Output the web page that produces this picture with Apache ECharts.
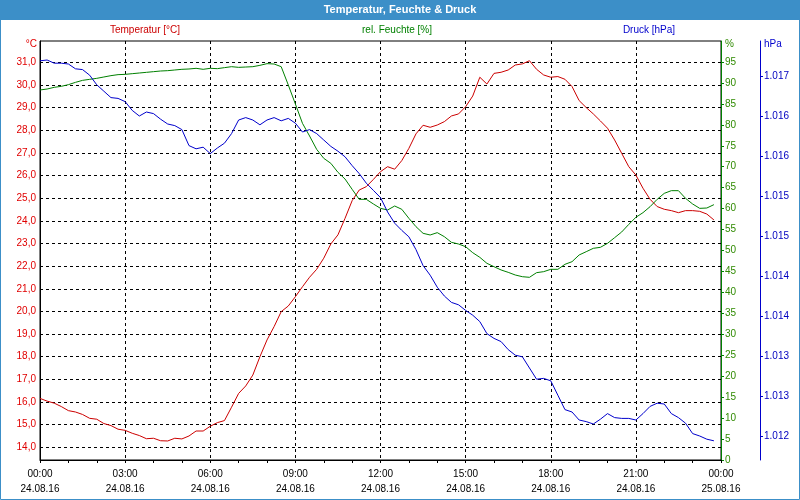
<!DOCTYPE html>
<html>
<head>
<meta charset="utf-8">
<script src="https://cdn.jsdelivr.net/npm/echarts@6/dist/echarts.min.js"></script>
<style>html,body{margin:0;padding:0;background:#fff;}#c{width:800px;height:500px;}</style>
</head>
<body>
<div id="c"></div>
<script>
// sampling: one reading every 15 minutes, starting 24.08.16 00:00 (hours)
const stepHours = 0.25;

const temperature = [
  16.16,16.04,15.95,15.80,15.62,15.56,15.45,15.28,15.24,15.05,14.96,14.80,14.75,14.62,14.52,14.38,14.40,14.29,14.28,14.40,14.37,14.50,14.72,14.72,14.93,
  15.09,15.18,15.77,16.38,16.71,17.19,18.00,18.74,19.33,19.99,20.24,20.65,21.09,21.51,21.86,22.35,22.98,23.38,24.11,24.89,25.36,25.51,25.83,26.17,
  26.39,26.28,26.66,27.20,27.84,28.22,28.13,28.23,28.38,28.63,28.72,29.04,29.51,30.34,30.04,30.51,30.56,30.66,30.88,30.93,31.07,30.69,30.44,30.34,
  30.37,30.25,29.93,29.31,29.00,28.72,28.41,28.09,27.57,26.98,26.39,26.02,25.44,24.95,24.63,24.51,24.45,24.36,24.45,24.45,24.42,24.30,24.04
];

const humidity = [
  88.31,88.54,88.94,89.18,89.58,90.13,90.61,90.85,91.09,91.41,91.73,91.97,92.04,92.20,92.36,92.52,92.68,92.84,92.92,93.08,93.24,93.32,93.48,93.24,93.48,
  93.40,93.64,93.87,93.71,93.79,93.87,94.19,94.59,94.51,93.87,89.50,84.96,80.35,77.33,74.14,72.00,70.80,68.66,67.06,64.60,62.21,62.21,61.10,60.06,
  59.67,60.62,59.83,57.68,55.69,54.10,53.70,54.26,53.30,51.95,51.55,50.91,49.48,48.37,46.94,46.14,45.35,44.79,44.15,43.75,43.60,44.71,44.95,45.51,
  45.51,46.70,47.33,48.93,49.72,50.52,50.76,51.71,53.06,54.42,56.24,57.92,59.03,60.46,62.21,63.64,64.28,64.28,62.45,61.10,60.06,60.14,60.94
];

const pressure = [
  1017.19,1017.20,1017.16,1017.16,1017.15,1017.09,1017.08,1017.01,1016.89,1016.81,1016.73,1016.72,1016.68,1016.57,1016.50,1016.55,1016.53,1016.46,1016.40,1016.38,1016.33,1016.13,1016.09,1016.11,1016.03,
  1016.10,1016.16,1016.28,1016.45,1016.48,1016.45,1016.39,1016.45,1016.48,1016.44,1016.47,1016.41,1016.30,1016.33,1016.28,1016.20,1016.12,1016.06,1015.99,1015.88,1015.78,1015.66,1015.57,1015.48,
  1015.30,1015.16,1015.07,1014.99,1014.83,1014.63,1014.51,1014.36,1014.25,1014.17,1014.14,1014.07,1014.01,1013.93,1013.78,1013.72,1013.68,1013.58,1013.51,1013.49,1013.35,1013.21,1013.22,1013.19,
  1013.01,1012.83,1012.80,1012.70,1012.68,1012.65,1012.71,1012.78,1012.73,1012.72,1012.72,1012.70,1012.78,1012.87,1012.91,1012.90,1012.78,1012.73,1012.66,1012.53,1012.50,1012.46,1012.44
];

const timeLabels = ['00:00','03:00','06:00','09:00','12:00','15:00','18:00','21:00','00:00'];
const dateLabels = ['24.08.16','24.08.16','24.08.16','24.08.16','24.08.16','24.08.16','24.08.16','24.08.16','25.08.16'];
const tempTicks = [14,15,16,17,18,19,20,21,22,23,24,25,26,27,28,29,30,31];
const pressureTicks = [1012.5,1013,1013.5,1014,1014.5,1015,1015.5,1016,1016.5,1017];

const FONT = 'Liberation Sans';
const RED = '#cc0000', GREEN = '#008000', BLUE = '#0000cc';

function pairs(arr){ return arr.map((v,i)=>[i*stepHours, v]); }

const chart = echarts.init(document.getElementById('c'), null, {renderer:'canvas'});
chart.setOption({
  animation:false,
  backgroundColor:'#ffffff',
  textStyle:{fontFamily:FONT},
  grid:{left:40, right:79, top:41, bottom:40, show:true, borderColor:'#000', borderWidth:1, backgroundColor:'transparent'},
  xAxis:{
    type:'value', min:0, max:24, interval:3,
    axisLine:{show:true, onZero:false, lineStyle:{color:'#000', width:1}},
    axisTick:{show:true, length:3, lineStyle:{color:'#000'}},
    minorTick:{show:true, splitNumber:3, length:3, lineStyle:{color:'#000'}},
    splitLine:{show:true, lineStyle:{color:'#000', type:[3,3], width:1}},
    axisLabel:{
      color:'#000', fontFamily:FONT, fontSize:10, margin:7, lineHeight:15,
      formatter:(v)=>{const i=Math.round(v/3); return timeLabels[i]+'\n'+dateLabels[i];}
    }
  },
  yAxis:[
    {
      type:'value', position:'left', min:13.44, max:31.94,
      axisLine:{show:true, lineStyle:{color:'#000'}},
      axisTick:{show:false, customValues:tempTicks},
      splitLine:{show:true, lineStyle:{color:'#000', type:[3,3], width:1}},
      axisLabel:{color:'#e00000', fontFamily:FONT, fontSize:10, margin:4, customValues:tempTicks,
        formatter:(v)=>v.toFixed(1).replace('.',',')}
    },
    {
      type:'value', position:'right', min:0, max:100, interval:5,
      axisLine:{show:true, lineStyle:{color:GREEN, width:1}},
      axisTick:{show:true, length:3, lineStyle:{color:GREEN}},
      splitLine:{show:false},
      axisLabel:{color:'#2f8a00', fontFamily:FONT, fontSize:10, margin:4, showMaxLabel:false}
    },
    {
      type:'value', position:'right', offset:39, min:1012.2, max:1017.4375,
      axisLine:{show:true, lineStyle:{color:BLUE, width:1}},
      axisTick:{show:true, length:3, lineStyle:{color:BLUE}, customValues:pressureTicks},
      splitLine:{show:false},
      axisLabel:{color:'#0000c0', fontFamily:FONT, fontSize:10, margin:4, customValues:pressureTicks,
        formatter:(v)=>{const n=Math.floor(v+1e-6); return '1.'+String(n-1000).padStart(3,'0');}}
    }
  ],
  series:[
    {name:'Temperatur [°C]', type:'line', yAxisIndex:0, data:pairs(temperature), showSymbol:false, lineStyle:{color:RED, width:1}, itemStyle:{color:RED}},
    {name:'rel. Feuchte [%]', type:'line', yAxisIndex:1, data:pairs(humidity), showSymbol:false, lineStyle:{color:GREEN, width:1}, itemStyle:{color:GREEN}},
    {name:'Druck [hPa]', type:'line', yAxisIndex:2, data:pairs(pressure), showSymbol:false, lineStyle:{color:BLUE, width:1}, itemStyle:{color:BLUE}}
  ],
  graphic:[
    {type:'rect', shape:{x:0,y:0,width:800,height:20}, style:{fill:'#3c8fc8'}, silent:true},
    {type:'rect', shape:{x:0.5,y:0.5,width:799,height:499}, style:{fill:null, stroke:'#3c8fc8', lineWidth:1}, silent:true},
    {type:'text', x:400, y:10, style:{text:'Temperatur, Feuchte & Druck', fill:'#fff', font:'bold 11px "Liberation Sans"', textAlign:'center', textVerticalAlign:'middle'}},
    {type:'text', x:145, y:30, style:{text:'Temperatur [°C]', fill:RED, font:'10px "Liberation Sans"', textAlign:'center', textVerticalAlign:'middle'}},
    {type:'text', x:397, y:30, style:{text:'rel. Feuchte [%]', fill:GREEN, font:'10px "Liberation Sans"', textAlign:'center', textVerticalAlign:'middle'}},
    {type:'text', x:649, y:30, style:{text:'Druck [hPa]', fill:BLUE, font:'10px "Liberation Sans"', textAlign:'center', textVerticalAlign:'middle'}},
    {type:'text', x:37, y:44, style:{text:'°C', fill:'#e00000', font:'10px "Liberation Sans"', textAlign:'right', textVerticalAlign:'middle'}},
    {type:'text', x:725, y:44, style:{text:'%', fill:'#2f8a00', font:'10px "Liberation Sans"', textAlign:'left', textVerticalAlign:'middle'}},
    {type:'text', x:764, y:44, style:{text:'hPa', fill:BLUE, font:'10px "Liberation Sans"', textAlign:'left', textVerticalAlign:'middle'}}
  ]
});
</script>
</body>
</html>
